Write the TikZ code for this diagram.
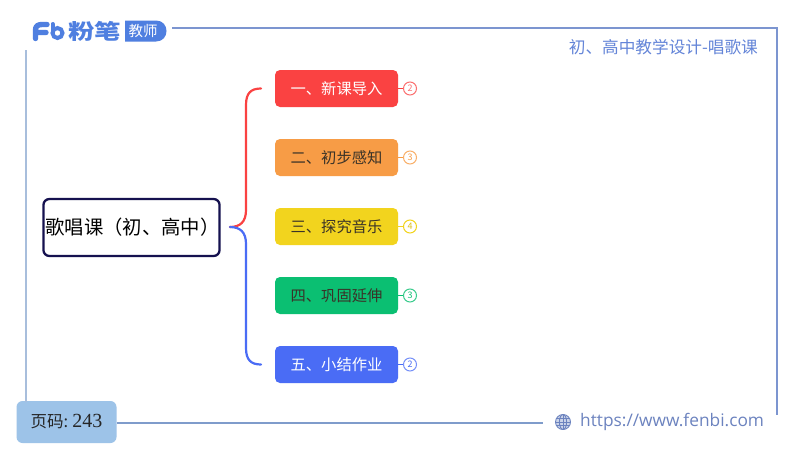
\documentclass[tikz,border=0pt]{standalone}
\usepackage{graphicx}
\usepackage{fontspec}
\setmainfont{Noto Sans CJK SC}
\newfontfamily\urlfont{Open Sans}
\newfontfamily\numfont{Liberation Serif}
\definecolor{cRed}{HTML}{FA4242}
\definecolor{cOrange}{HTML}{F79C46}
\definecolor{cYellow}{HTML}{F2D41E}
\definecolor{cGreen}{HTML}{0BBF72}
\definecolor{cBlue}{HTML}{4A6CF5}
\definecolor{cDark}{HTML}{3A3328}
\definecolor{cNavy}{HTML}{15114F}
\definecolor{cFrame}{HTML}{7C95D0}
\definecolor{cFrameL}{HTML}{A8BEDC}
\definecolor{cFoot}{HTML}{7F9CCB}
\definecolor{cPage}{HTML}{9DC3E8}
\definecolor{cTitle}{HTML}{6485D8}
\definecolor{cLogo}{HTML}{4F7FE0}
\definecolor{cUrl}{HTML}{6C83BF}
\tikzset{
  x=1pt,y=-1pt,
  topic/.style={rounded corners=5pt,minimum width=123pt,minimum height=37pt,inner sep=0pt,font=\fontsize{15.3}{17}\selectfont},
  badge/.style={circle,draw,line width=1pt,fill=white,minimum size=13pt,inner sep=0pt,font=\fontsize{9}{10}\selectfont},
  stub/.style={line width=1pt},
  branch/.style={line width=2.2pt,line cap=round},
  framel/.style={line width=1.8pt},
}
\begin{document}
\begin{tikzpicture}
\useasboundingbox (0,0) rectangle (800,450);
\fill[white] (0,0) rectangle (800,450);

% frame
\coordinate (fa) at (172,28);
\coordinate (fb) at (777,28);
\coordinate (fc) at (777,415);
\coordinate (fd) at (26,50);
\coordinate (fe) at (26,402);
\draw[framel,cFrame] (fa) -- (fb) -- (fc);
\draw[framel,cFrameL] (fd) -- (fe);

% logo
\draw[cLogo,line width=5.4pt,line cap=round,line join=round]
  (35.5,38.5) -- (35.5,30) .. controls (35.5,26) and (38,24.5) .. (42,24.5) -- (47,24.5)
  (35.5,32.5) -- (46,32.5);
\draw[cLogo,line width=4pt,line cap=round] (52.5,24) -- (52.5,33);
\draw[cLogo,line width=4pt] (57.5,33) circle (5);
\node[text=cLogo,font=\fontsize{21}{23}\selectfont\bfseries,inner sep=0pt,anchor=west] (logo) at (68,31.5) {\scalebox{1.26}[1]{粉笔}};
\fill[cLogo] (125,20.5) -- (156,20.5) .. controls (170,20.5) and (170,41.5) .. (156,41.5) -- (125,41.5) -- cycle;
\node[text=white,font=\fontsize{14.5}{16}\selectfont,inner sep=0pt] (pill) at (143,31) {教师};

% title
\node[text=cTitle,font=\fontsize{16.65}{18}\selectfont,inner sep=0pt,anchor=east] (title) at (758,47) {初、高中教学设计-唱歌课};

% root
\node[draw=cNavy,line width=2.3pt,rounded corners=6pt,minimum width=175pt,minimum height=57pt,inner sep=0pt,
  font=\fontsize{19.35}{21}\selectfont,text=black] (root) at (131.5,227.5) {\hspace{2pt}歌唱课（初、高中）};

% topics
\node[topic,fill=cRed,text=white] (t1) at (336.5,88.5) {一、新课导入\hspace{1.5pt}};
\node[topic,fill=cOrange,text=cDark] (t2) at (336.5,157.5) {二、初步感知\hspace{1.5pt}};
\node[topic,fill=cYellow,text=cDark] (t3) at (336.5,226.5) {三、探究音乐\hspace{1.5pt}};
\node[topic,fill=cGreen,text=cDark] (t4) at (336.5,295.5) {四、巩固延伸\hspace{1.5pt}};
\node[topic,fill=cBlue,text=white] (t5) at (336.5,364.5) {五、小结作业\hspace{1.5pt}};

% badges
\node[badge,draw=cRed!75!white,text=cRed!75!white] (b1) at (410,88.5) {2};
\node[badge,draw=cOrange!80!white,text=cOrange] (b2) at (410,157.5) {3};
\node[badge,draw=cYellow,text=cYellow!90!black] (b3) at (410,226.5) {4};
\node[badge,draw=cGreen!80!white,text=cGreen] (b4) at (410,295.5) {3};
\node[badge,draw=cBlue!75!white,text=cBlue] (b5) at (410,364.5) {2};
\draw[stub,cRed] (t1) -- (b1);
\draw[stub,cOrange] (t2) -- (b2);
\draw[stub,cYellow] (t3) -- (b3);
\draw[stub,cGreen] (t4) -- (b4);
\draw[stub,cBlue] (t5) -- (b5);

% branches
\coordinate (br) at (230,227);
\coordinate (e1) at (261,88.5);
\coordinate (e5) at (261,364.5);
\draw[branch,cRed] (br) .. controls (240,227) and (246,222) .. (246,210) -- (246,105) .. controls (246,93) and (251,88.5) .. (e1);
\draw[branch,cBlue] (br) .. controls (240,227) and (246,232) .. (246,244) -- (246,348) .. controls (246,360) and (251,364.5) .. (e5);

% footer
\node[fill=cPage,rounded corners=6pt,minimum width=100pt,minimum height=42pt,inner sep=0pt,
  font=\fontsize{16.5}{18}\selectfont,text=black!85] (page) at (66.5,422) {页码:\hspace{4pt}{\numfont\fontsize{20}{20}\selectfont 243}};
\coordinate (fg) at (543,423);
\draw[cFoot,line width=1.6pt] (page.east |- fg) -- (fg);
\draw[cFrameL,line width=1.8pt] (fe) -- (page.north -| fe);

% globe
\begin{scope}[cUrl,line width=.9pt,shift={(563,422)}]
  \fill[cUrl!35!white] (0,0) circle (7.5);
  \draw (0,0) circle (7.5);
  \draw (0,-7.5) -- (0,7.5) (-7.5,0) -- (7.5,0) (-6.6,-3.6) -- (6.6,-3.6) (-6.6,3.6) -- (6.6,3.6);
  \draw (0,0) ellipse (3.6 and 7.5);
\end{scope}
\node[text=cUrl,font=\urlfont\fontsize{17.3}{19}\selectfont,inner sep=0pt,anchor=west] (url) at (580,421.5) {https://www.fenbi.com};
\end{tikzpicture}
\end{document}
